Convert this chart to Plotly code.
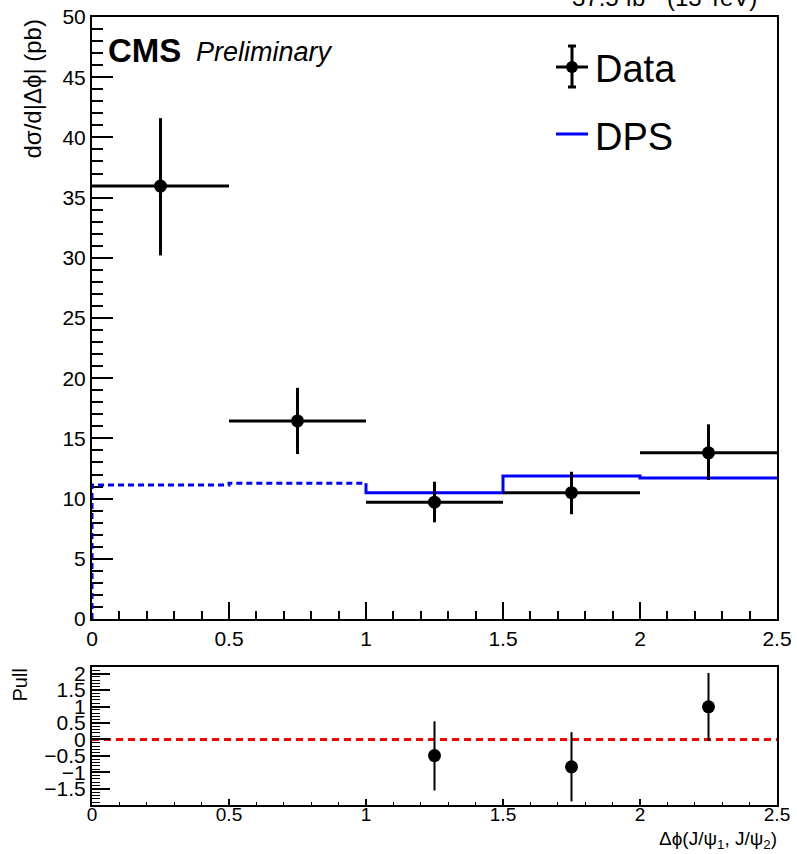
import plotly.graph_objects as go

W, H = 797, 854

# ---------------- data ----------------
bin_edges = [0.0, 0.5, 1.0, 1.5, 2.0, 2.5]
data_x = [0.25, 0.75, 1.25, 1.75, 2.25]
data_y = [35.96, 16.45, 9.70, 10.49, 13.80]
data_err_up = [5.64, 2.75, 1.70, 1.74, 2.37]
data_err_dn = [5.76, 2.75, 1.67, 1.79, 2.25]
data_xerr = [0.25, 0.25, 0.25, 0.25, 0.25]
dps_vals = [11.13, 11.27, 10.49, 11.88, 11.71]
pull_x = [1.25, 1.75, 2.25]
pull_y = [-0.49, -0.83, 0.99]
pull_err_up = [1.04, 1.05, 1.03]
pull_err_dn = [1.06, 1.05, 1.04]
pull_ref = [0.0, 0.0]

FONT = "Liberation Sans, Arial, sans-serif"


def px(x):
    return x / W


def py(y):
    return 1 - y / H


fig = go.Figure()

# DPS dashed part (first two bins, incl. rise from 0)
dash_x = [bin_edges[0]] + bin_edges[0:2] + [bin_edges[2]]
dash_y = [0] + dps_vals[0:2] + [dps_vals[1]]
fig.add_trace(go.Scatter(x=dash_x, y=dash_y, mode="lines", line_shape="hv",
                         line=dict(color="#0000ff", width=3, dash="6px,4px"),
                         showlegend=False, xaxis="x", yaxis="y", cliponaxis=False))
# DPS solid part
sol_x = [bin_edges[2]] + bin_edges[2:5] + [bin_edges[5]]
sol_y = [dps_vals[1]] + dps_vals[2:5] + [dps_vals[4]]
fig.add_trace(go.Scatter(x=sol_x, y=sol_y, mode="lines", line_shape="hv",
                         line=dict(color="#0000ff", width=3),
                         showlegend=False, xaxis="x", yaxis="y"))
# Data
fig.add_trace(go.Scatter(
    x=data_x, y=data_y, mode="markers",
    marker=dict(color="black", size=13),
    error_x=dict(type="data", array=data_xerr, color="black", thickness=3, width=0),
    error_y=dict(type="data", symmetric=False, array=data_err_up, arrayminus=data_err_dn,
                 color="black", thickness=3, width=0),
    showlegend=False, xaxis="x", yaxis="y", cliponaxis=False))

# Pull reference line
fig.add_trace(go.Scatter(x=[bin_edges[0], bin_edges[-1]], y=pull_ref, mode="lines",
                         line=dict(color="#ff0000", width=3, dash="7px,5px"),
                         showlegend=False, xaxis="x2", yaxis="y2"))
# Pull points
fig.add_trace(go.Scatter(
    x=pull_x, y=pull_y, mode="markers",
    marker=dict(color="black", size=13),
    error_y=dict(type="data", symmetric=False, array=pull_err_up, arrayminus=pull_err_dn,
                 color="black", thickness=2, width=0),
    showlegend=False, xaxis="x2", yaxis="y2", cliponaxis=False))

tickfont = dict(family=FONT, size=21, color="black")

common_x = dict(range=[0, 2.5], domain=[px(92), px(777)], showline=True, linecolor="black",
                linewidth=2, mirror=True, ticks="inside", tickcolor="black", tickwidth=2,
                tick0=0, dtick=0.5, showgrid=False, zeroline=False,
                automargin=False)

fig.update_layout(
    template="none",
    width=W, height=H, margin=dict(l=0, r=0, t=0, b=0, pad=0, autoexpand=False),
    paper_bgcolor="white", plot_bgcolor="white", showlegend=False,
    xaxis=dict(**common_x, anchor="y", ticklen=17, tickfont=tickfont,
               minor=dict(dtick=0.1, ticklen=8, tickwidth=2, ticks="inside", tickcolor="black")),
    yaxis=dict(range=[0, 50], domain=[py(619), py(17)], anchor="x", showline=True,
               linecolor="black", linewidth=2, mirror=True, ticks="inside", tickcolor="black",
               tickwidth=2, ticklen=21, tick0=0, dtick=5, showgrid=False, zeroline=False,
               tickfont=tickfont, layer="below traces", automargin=False,
               minor=dict(dtick=1, ticklen=11, tickwidth=2, ticks="inside", tickcolor="black")),
    xaxis2=dict(**common_x, anchor="y2", ticklen=6, ticklabelstandoff=-9,
                tickfont=dict(family=FONT, size=19, color="black"),
                minor=dict(dtick=0.1, ticklen=3, tickwidth=1, ticks="inside", tickcolor="black")),
    yaxis2=dict(range=[-1.99, 2.2], domain=[py(805), py(667)], anchor="x2", showline=True,
                linecolor="black", linewidth=2, mirror=True, ticks="inside", tickcolor="black",
                tickwidth=2, ticklen=18, tick0=0, dtick=0.5, showgrid=False, zeroline=False,
                tickfont=tickfont, automargin=False,
                minor=dict(dtick=0.1, ticklen=8, tickwidth=1, ticks="inside", tickcolor="black")),
)

ann = []
ann.append(dict(text="<b>CMS</b>", x=px(106), y=py(51), xref="paper", yref="paper",
                xanchor="left", yanchor="middle", showarrow=False,
                font=dict(family=FONT, size=33, color="black")))
ann.append(dict(text="<i>Preliminary</i>", x=px(194), y=py(52), xref="paper", yref="paper",
                xanchor="left", yanchor="middle", showarrow=False,
                font=dict(family=FONT, size=27, color="black")))
ann.append(dict(text="Data", x=px(593), y=py(69), xref="paper", yref="paper",
                xanchor="left", yanchor="middle", showarrow=False,
                font=dict(family=FONT, size=38, color="black")))
ann.append(dict(text="DPS", x=px(593), y=py(137), xref="paper", yref="paper",
                xanchor="left", yanchor="middle", showarrow=False,
                font=dict(family=FONT, size=38, color="black")))
ann.append(dict(text="dσ/d|Δϕ| (pb)", x=px(32), y=py(18), xref="paper", yref="paper",
                xanchor="center", yanchor="top", textangle=-90, showarrow=False,
                font=dict(family=FONT, size=24, color="black")))
ann.append(dict(text="Pull", x=px(19), y=py(667), xref="paper", yref="paper",
                xanchor="center", yanchor="top", textangle=-90, showarrow=False,
                font=dict(family=FONT, size=20, color="black")))
ann.append(dict(text="Δϕ(J/ψ<sub>1</sub>, J/ψ<sub>2</sub>)", x=px(779), y=py(854),
                xref="paper", yref="paper", xanchor="right", yanchor="bottom", showarrow=False,
                font=dict(family=FONT, size=19, color="black")))
ann.append(dict(text="37.5 fb<sup>-1</sup> (13 TeV)", x=px(759), y=py(13), xref="paper",
                yref="paper", xanchor="right", yanchor="bottom", showarrow=False,
                font=dict(family=FONT, size=24, color="black")))
fig.update_layout(annotations=ann)

# Legend glyphs (decorative)
shapes = []
lx, ly = 572, 67
shapes.append(dict(type="line", xref="paper", yref="paper", x0=px(556), x1=px(588),
                   y0=py(ly), y1=py(ly), line=dict(color="black", width=3)))
shapes.append(dict(type="line", xref="paper", yref="paper", x0=px(lx), x1=px(lx),
                   y0=py(46), y1=py(87), line=dict(color="black", width=3)))
for yy in (46, 87):
    shapes.append(dict(type="line", xref="paper", yref="paper", x0=px(lx - 4), x1=px(lx + 4),
                       y0=py(yy), y1=py(yy), line=dict(color="black", width=3)))
shapes.append(dict(type="circle", xref="paper", yref="paper", x0=px(lx - 6), x1=px(lx + 6),
                   y0=py(ly - 6), y1=py(ly + 6), fillcolor="black", line=dict(color="black", width=0)))
shapes.append(dict(type="line", xref="paper", yref="paper", x0=px(556), x1=px(588),
                   y0=py(134), y1=py(134), line=dict(color="#0000ff", width=3)))
fig.update_layout(shapes=shapes)

fig.write_html("out.html")
